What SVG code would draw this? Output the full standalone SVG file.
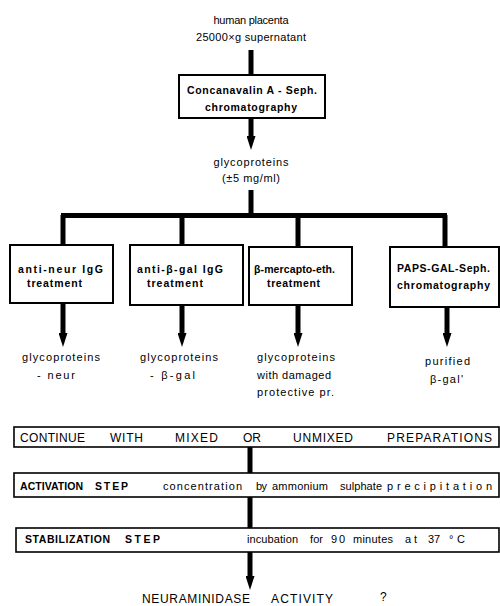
<svg xmlns="http://www.w3.org/2000/svg" width="500" height="606" viewBox="0 0 500 606">
<style>
text{font-family:"Liberation Sans",Arial,sans-serif;fill:#000;font-size:11px}
.b{font-weight:bold;font-size:10.5px}
.box{fill:#fff;stroke:#000;stroke-width:2}
.wbox{fill:#fff;stroke:#000;stroke-width:1.6}
.sh{stroke:#000;stroke-width:5;fill:none}
.c{text-anchor:middle}
.big{font-size:12px}
</style>
<defs>
<marker id="ah" viewBox="0 0 14 9" refX="0" refY="4.5" markerWidth="14" markerHeight="9" markerUnits="userSpaceOnUse" orient="auto">
<path d="M0,0 L14,4.5 L0,9 z" fill="#000"/>
</marker>
</defs>
<rect width="500" height="606" fill="#fff"/>
<g id="connectors">
<line class="sh" x1="251" y1="50" x2="251" y2="76"/>
<line class="sh" x1="251" y1="118" x2="251" y2="136" marker-end="url(#ah)"/>
<line class="sh" x1="251" y1="190" x2="251" y2="216"/>
<line class="sh" x1="61" y1="215.5" x2="447" y2="215.5"/>
<line class="sh" x1="63" y1="215" x2="63" y2="246"/>
<line class="sh" x1="182" y1="215" x2="182" y2="246"/>
<line class="sh" x1="298" y1="215" x2="298" y2="248"/>
<line class="sh" x1="445" y1="215" x2="445" y2="248"/>
<line class="sh" x1="63" y1="303" x2="63" y2="333" marker-end="url(#ah)"/>
<line class="sh" x1="182" y1="305" x2="182" y2="333" marker-end="url(#ah)"/>
<line class="sh" x1="298" y1="305" x2="298" y2="333" marker-end="url(#ah)"/>
<line class="sh" x1="447" y1="307" x2="447" y2="333" marker-end="url(#ah)"/>
<line class="sh" x1="250" y1="447" x2="250" y2="473"/>
<line class="sh" x1="250" y1="497" x2="250" y2="528"/>
<line class="sh" x1="250" y1="552" x2="250" y2="576" marker-end="url(#ah)"/>
</g>
<g id="start">
<text class="c" x="251" y="24" textLength="75">human placenta</text>
<text class="c" x="251" y="41" textLength="110">25000×g supernatant</text>
</g>
<g id="conA">
<rect class="box" x="179" y="75" width="146" height="43"/>
<text class="c b" x="252" y="94" textLength="130">Concanavalin A - Seph.</text>
<text class="c b" x="251" y="111" textLength="92">chromatography</text>
</g>
<g id="glyco">
<text class="c" x="251" y="166" textLength="75">glycoproteins</text>
<text class="c" x="251" y="182" textLength="58">(±5 mg/ml)</text>
</g>
<g id="box1">
<rect class="box" x="10" y="245" width="103" height="58"/>
<text class="b" x="18" y="273" textLength="85">anti-neur IgG</text>
<text class="b" x="27" y="287" textLength="55">treatment</text>
</g>
<g id="box2">
<rect class="box" x="130" y="245" width="113" height="60"/>
<text class="b" x="137" y="273" textLength="86">anti-β-gal IgG</text>
<text class="b" x="147" y="287" textLength="56">treatment</text>
</g>
<g id="box3">
<rect class="box" x="249" y="247" width="103" height="58"/>
<text class="b" x="254" y="273" textLength="81">β-mercapto-eth.</text>
<text class="b" x="267" y="287" textLength="53">treatment</text>
</g>
<g id="box4">
<rect class="box" x="390" y="247" width="109" height="60"/>
<text class="b" x="397" y="272" textLength="93">PAPS-GAL-Seph.</text>
<text class="b" x="397" y="289" textLength="93">chromatography</text>
</g>
<g id="out1">
<text x="22" y="361" textLength="78">glycoproteins</text>
<text x="37" y="379" textLength="38">- neur</text>
</g>
<g id="out2">
<text x="140" y="361" textLength="78">glycoproteins</text>
<text x="150" y="379" textLength="45">- β-gal</text>
</g>
<g id="out3">
<text x="257" y="361" textLength="78">glycoproteins</text>
<text x="257" y="379" textLength="74">with damaged</text>
<text x="257" y="396" textLength="77">protective pr.</text>
</g>
<g id="out4">
<text x="425" y="365" textLength="45">purified</text>
<text x="430" y="383" textLength="33">β-gal'</text>
</g>
<g id="continue">
<rect class="wbox" x="14" y="427" width="485" height="20"/>
<text class="big" x="20" y="442" textLength="65">CONTINUE</text>
<text class="big" x="110" y="442" textLength="33">WITH</text>
<text class="big" x="175" y="442" textLength="43">MIXED</text>
<text class="big" x="243" y="442" textLength="18">OR</text>
<text class="big" x="293" y="442" textLength="60">UNMIXED</text>
<text class="big" x="387" y="442" textLength="105">PREPARATIONS</text>
</g>
<g id="activation">
<rect class="wbox" x="14" y="473" width="485" height="24"/>
<text class="b" x="20" y="490" textLength="63">ACTIVATION</text>
<text class="b" x="95" y="490" textLength="33">STEP</text>
<text x="163" y="490" textLength="79">concentration</text>
<text x="256" y="490" textLength="11">by</text>
<text x="272" y="490" textLength="56">ammonium</text>
<text x="340" y="490" textLength="42">sulphate</text>
<text x="387" y="490" textLength="105">precipitation</text>
</g>
<g id="stabilization">
<rect class="wbox" x="16" y="528" width="483" height="24"/>
<text class="b" x="25" y="543" textLength="85">STABILIZATION</text>
<text class="b" x="125" y="543" textLength="35">STEP</text>
<text x="247" y="543" textLength="51">incubation</text>
<text x="310" y="543" textLength="13">for</text>
<text x="331" y="543" textLength="14">90</text>
<text x="353" y="543" textLength="40">minutes</text>
<text x="405" y="543" textLength="12">at</text>
<text x="428" y="543" textLength="12">37</text>
<text x="449" y="543" textLength="16">°C</text>
</g>
<g id="result">
<text class="big" x="142" y="603" textLength="108">NEURAMINIDASE</text>
<text class="big" x="271" y="603" textLength="62">ACTIVITY</text>
<text class="big" x="380" y="601">?</text>
</g>
</svg>
